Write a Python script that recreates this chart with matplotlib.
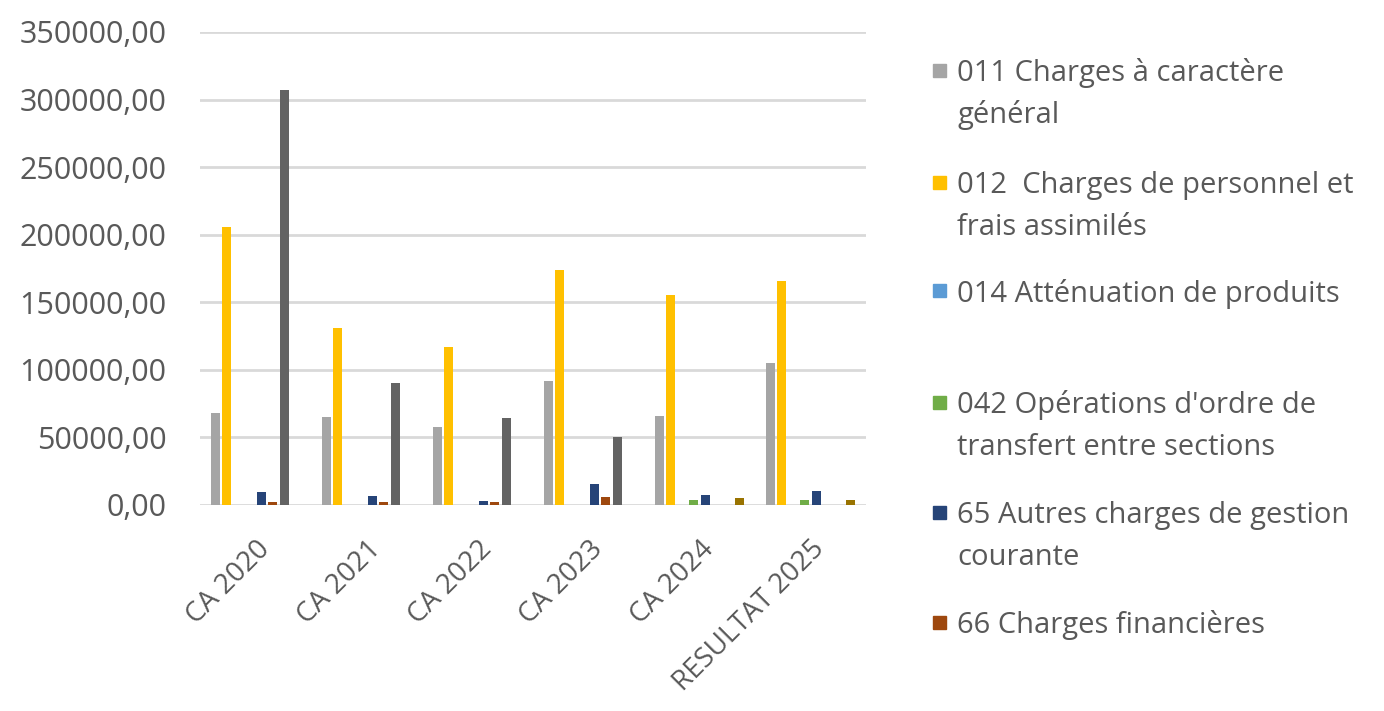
import numpy as np
import matplotlib.pyplot as plt
from matplotlib.patches import Rectangle

categories = ['CA 2020', 'CA 2021', 'CA 2022', 'CA 2023', 'CA 2024', 'RESULTAT 2025']

series_names = [
    "011 Charges à caractère\ngénéral",
    "012  Charges de personnel et\nfrais assimilés",
    "014 Atténuation de produits",
    "042 Opérations d'ordre de\ntransfert entre sections",
    "65 Autres charges de gestion\ncourante",
    "66 Charges financières",
    "67 Charges exceptionnelles",
    "023 Virement à la section d'investissement",
]
colors = ['#A5A5A5', '#FFC000', '#5B9BD5', '#70AD47', '#264478', '#9E480E', '#636363', '#997300']

c011 = [68000, 65000, 57500, 91500, 65500, 105000]
c012 = [206000, 131000, 117000, 174000, 155000, 165500]
c014 = [0, 0, 0, 0, 0, 0]
c042 = [0, 0, 0, 0, 3500, 3500]
c65 = [9600, 6500, 3000, 15500, 7500, 10500]
c66 = [2000, 2000, 2000, 5500, 0, 0]
c67 = [307000, 90300, 64500, 50500, 0, 0]
c023 = [0, 0, 0, 0, 5000, 3500]
values = [c011, c012, c014, c042, c65, c66, c67, c023]

text_col = '#595959'
plt.rcParams['font.family'] = ['Open Sans', 'DejaVu Sans']

fig = plt.figure(figsize=(13.84, 7.11), dpi=100)
ax = fig.add_axes([0.1445, 0.29, 0.4812, 0.665])

x = np.arange(len(categories))
slot = 0.1036
for i, (vals, col) in enumerate(zip(values, colors)):
    ax.bar(x + (i - 3.5) * slot, vals, width=0.084, color=col, zorder=3)

ax.set_xlim(-0.5, len(categories) - 0.5)
ax.set_ylim(0, 350000)
ax.set_yticks(np.arange(0, 350001, 50000))
ax.set_yticklabels([f'{v},00' for v in range(0, 350001, 50000)])
ax.grid(axis='y', color='#D9D9D9', linewidth=2, zorder=0)
for s in ax.spines.values():
    s.set_visible(False)
ax.tick_params(axis='y', length=0, pad=24, labelsize=22, labelcolor=text_col)
ax.set_xticks(x)
ax.set_xticklabels(categories, rotation=45, ha='right', va='top', rotation_mode='anchor')
ax.tick_params(axis='x', length=0, pad=22, labelsize=20, labelcolor=text_col)

# legend (only the first six entries are visible in the original)
leg_y = [70, 182, 290, 402, 512, 622]
line_gap = 42
W, H = 1384, 711
for name, col, yy in zip(series_names[:6], colors[:6], leg_y):
    fig.patches.append(Rectangle((933 / W, 1 - (yy + 7) / H), 13 / W, 13 / H,
                                 transform=fig.transFigure, color=col))
    for k, line in enumerate(name.split('\n')):
        fig.text(957 / W, 1 - (yy + k * line_gap) / H, line, fontsize=21,
                 color=text_col, va='center_baseline', ha='left')

fig.savefig('out.png', dpi=100)
